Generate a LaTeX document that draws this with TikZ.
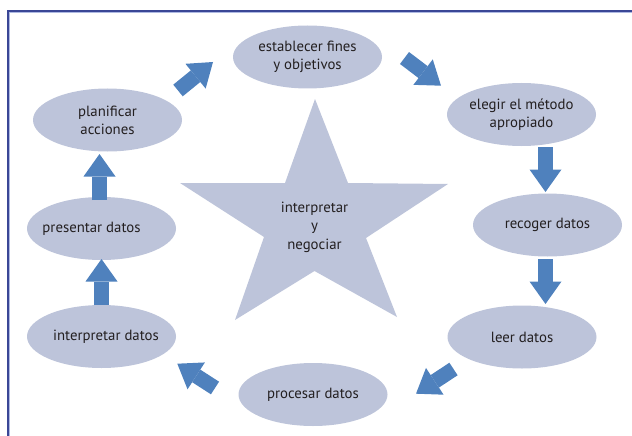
\documentclass[tikz,border=0pt]{standalone}
\usepackage{fontspec}
\setmainfont{PT Sans}
\usetikzlibrary{shapes.geometric,arrows.meta}

\definecolor{framedark}{HTML}{3A4796}
\definecolor{framelight}{HTML}{AEB9E2}
\definecolor{bubble}{HTML}{BDC4DA}
\definecolor{flow}{HTML}{4F81BD}
\definecolor{ink}{HTML}{231F20}

% zero-width line, so the ellipse keeps its fixed size
\newcommand\zline[1]{\makebox[0pt]{#1}}

\tikzset{
  stage/.style={ellipse, fill=bubble, minimum width=149pt, minimum height=63pt,
    inner sep=0pt, align=center, text=ink,
    font=\fontsize{14.8}{17.7}\selectfont},
  blockarrow/.style={draw=flow, line width=15pt,
    -{Triangle[width=32pt,length=22.5pt,line width=0pt,fill=flow]}},
}

\begin{document}
\begin{tikzpicture}[x=1pt,y=-1pt]
\useasboundingbox (0,0) rectangle (632,436);

% outer frame (open to the right and bottom)
\draw[framedark, line width=2pt] (8,440) -- (8,11) -- (640,11);
\draw[framelight, line width=0.8pt] (9.6,440) -- (9.6,12.6) -- (640,12.6);

% central star
\fill[bubble] (315,99) -- (348,183) -- (448,184) -- (366,238) -- (397,317)
  -- (314.5,271) -- (235,320) -- (264,237) -- (180,183) -- (285,183) -- cycle;
\node[text=ink, align=center, font=\fontsize{14.8}{18.5}\selectfont]
  (centro) at (314.5,227) {interpretar\\y\\negociar};

% stages of the cycle
\node[stage] (fines)      at (307.5,57)    {\zline{establecer fines}\\\zline{y objetivos}};
\node[stage] (metodo)     at (521.5,114.5) {\zline{elegir el método}\\\zline{apropiado}};
\node[stage] (recoger)    at (547.5,225)   {\zline{recoger datos}};
\node[stage] (leer)       at (522,337)     {\zline{leer datos}};
\node[stage] (procesar)   at (313,394.5)   {\zline{procesar datos}};
\node[stage] (interp)     at (101.5,336.5) {\zline{\hspace*{9pt}interpretar datos}};
\node[stage] (presentar)  at (101.5,228.5) {\zline{presentar datos\hspace*{20pt}}};
\node[stage] (planificar) at (107.5,120)   {\zline{planificar}\\\zline{acciones}};

% arrow ends
\coordinate (a1s) at (404.5,58);  \coordinate (a1e) at (441,85.7);
\coordinate (a2s) at (545.5,147); \coordinate (a2e) at (545.5,192);
\coordinate (a3s) at (545.5,259); \coordinate (a3e) at (545.5,304);
\coordinate (a4s) at (453.5,369); \coordinate (a4e) at (416,393.7);
\coordinate (a5s) at (215,388);   \coordinate (a5e) at (177.3,363.7);
\coordinate (a6s) at (101.5,305); \coordinate (a6e) at (101.5,259);
\coordinate (a7s) at (99.5,200);  \coordinate (a7e) at (99.5,154);
\coordinate (a8s) at (178,90.5);  \coordinate (a8e) at (213,62);

% block arrows around the cycle
\draw[blockarrow] (a1s) -- (a1e);
\draw[blockarrow] (a2s) -- (a2e);
\draw[blockarrow] (a3s) -- (a3e);
\draw[blockarrow] (a4s) -- (a4e);
\draw[blockarrow] (a5s) -- (a5e);
\draw[blockarrow] (a6s) -- (a6e);
\draw[blockarrow] (a7s) -- (a7e);
\draw[blockarrow] (a8s) -- (a8e);
\end{tikzpicture}
\end{document}
